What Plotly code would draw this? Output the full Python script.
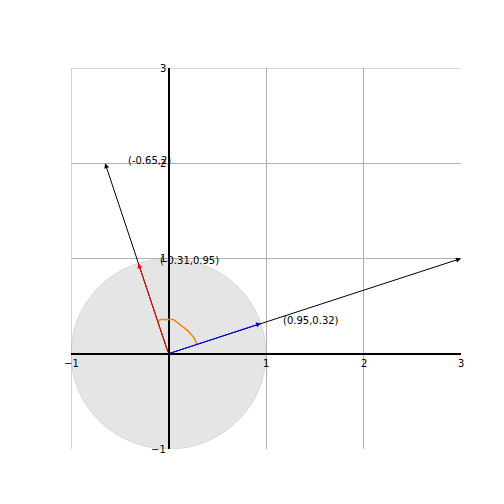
import plotly.graph_objects as go

vectors = [(3, 1), (-0.65, 2), (0.95, 0.32), (-0.31, 0.95)]
vector_colors = ["black", "black", "blue", "red"]
labels = ["(3,1)", "(-0.65,2)", "(0.95,0.32)", "(-0.31,0.95)"]
label_pos = [(3.2, 1.0), (-0.44, 2.03), (1.15, 0.35), (-0.11, 0.98)]
angle_x = [-0.11, -0.08, 0.05, 0.12, 0.2, 0.26, 0.29]
angle_y = [0.34, 0.36, 0.36, 0.3, 0.24, 0.17, 0.1]
ticks = [-1, 1, 2, 3]

fig = go.Figure()
fig.add_shape(type="circle", x0=-1, y0=-1, x1=1, y1=1, xref="x", yref="y",
              fillcolor="#e5e5e5", line=dict(color="#d8d8d8", width=1), layer="below")
# grid lines on the left and top edges
fig.add_shape(type="line", x0=-1, x1=-1, y0=-1, y1=3, xref="x", yref="y",
              line=dict(color="#b0b0b0", width=1), layer="below")
fig.add_shape(type="line", x0=-1, x1=3, y0=3, y1=3, xref="x", yref="y",
              line=dict(color="#b0b0b0", width=1), layer="below")
fig.add_trace(go.Scatter(x=angle_x, y=angle_y, mode="lines",
                         line=dict(color="#ff7f0e", width=1.5), hoverinfo="skip"))

for (vx, vy), c in zip(vectors, vector_colors):
    fig.add_annotation(x=vx, y=vy, ax=0, ay=0, xref="x", yref="y", axref="x", ayref="y",
                       showarrow=True, arrowhead=2, arrowsize=1, arrowwidth=1, arrowcolor=c, text="")

for t, (lx, ly) in zip(labels, label_pos):
    fig.add_annotation(x=lx, y=ly, text=t, showarrow=False, xanchor="left",
                       font=dict(size=10, color="black"))

for t in ticks:
    lab = "\u22121" if t < 0 else str(t)
    fig.add_annotation(x=t, y=0, text=lab, showarrow=False, yanchor="top", yshift=-2,
                       font=dict(size=10, color="black"))
    fig.add_annotation(x=0, y=t, text=lab, showarrow=False, xanchor="right", xshift=-1,
                       font=dict(size=10, color="black"))

axis = dict(range=[-1, 3], dtick=1, showgrid=True, gridcolor="#b0b0b0", gridwidth=1,
            zeroline=True, zerolinecolor="black", zerolinewidth=1.5,
            showticklabels=False, ticks="", showline=False)
fig.update_layout(width=504, height=504, showlegend=False, plot_bgcolor="white",
                  paper_bgcolor="white",
                  margin=dict(l=63, r=51, t=60, b=63, autoexpand=False),
                  xaxis=axis, yaxis=axis, font=dict(family="DejaVu Sans"))
fig.write_html("out.html")
